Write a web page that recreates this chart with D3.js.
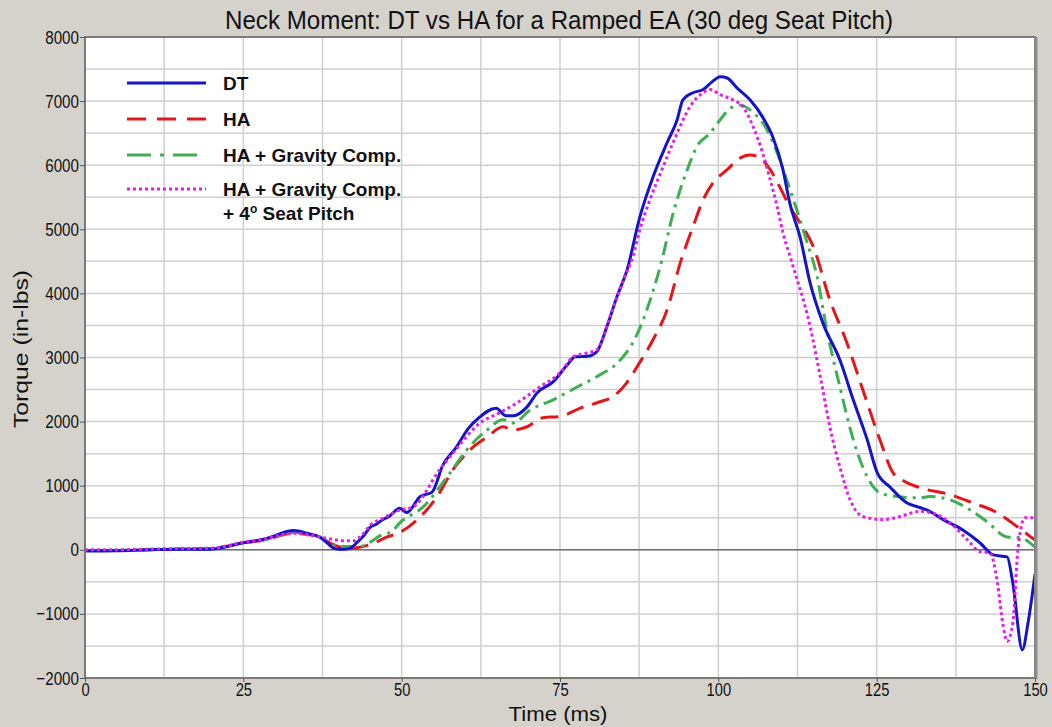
<!DOCTYPE html>
<html>
<head>
<meta charset="utf-8">
<script src="https://cdn.jsdelivr.net/npm/d3@7"></script>
<style>
  body { margin: 0; background: #d5d2cc; }
  svg { display: block; }
  .tick text { transform-box: fill-box; }
</style>
</head>
<body>
<svg id="chart"></svg>
<script>
// chart texts
var chartTitle = "Neck Moment: DT vs HA for a Ramped EA (30 deg Seat Pitch)";
var xTitle = "Time (ms)";
var yTitle = "Torque (in-lbs)";

var xTicks = [0, 25, 50, 75, 100, 125, 150];
var yTicks = [-2000, -1000, 0, 1000, 2000, 3000, 4000, 5000, 6000, 7000, 8000];

// [time ms, torque in-lbs]
var dtData = [[0,-20],[5,-15],[10,0],[15,10],[20,10],[22,40],[25,110],[28,160],[30,220],[32,290],[33,300],[35,260],[37,200],[38,130],[39,40],[40,10],[41,10],[42,30],[43,120],[44,220],[45,350],[46,400],[47,470],[48,520],[49.7,650],[50.8,580],[52.9,830],[54.8,900],[56.5,1320],[58.7,1610],[60.5,1890],[62.2,2060],[64.9,2210],[66.5,2090],[67.6,2090],[69.8,2230],[71.4,2450],[73.9,2620],[76.1,2880],[77.4,3010],[79.4,3020],[80.8,3090],[82.4,3480],[84,3950],[85.6,4370],[87.6,5190],[89.7,5820],[91.9,6350],[93.5,6710],[94.4,7020],[96,7130],[97.6,7180],[99,7300],[100.3,7380],[101.4,7360],[102.9,7210],[105,7020],[107,6750],[108.6,6440],[110.2,5930],[111.3,5400],[112.9,4880],[114.5,4160],[116.5,3540],[119.2,2960],[121.3,2340],[123.5,1720],[125.1,1200],[127.1,980],[129.8,730],[131.8,660],[133,620],[135.5,470],[138.6,310],[141.3,110],[143.4,-80],[145.6,-110],[146.5,-520],[148,-1560],[148.9,-1140],[150,-380]];

var haData = [[0,-10],[5,-10],[10,0],[15,10],[20,20],[22,50],[25,110],[28,150],[30,200],[32,250],[33,260],[35,240],[37.1,200],[39.2,80],[40.5,40],[42.3,30],[43.9,50],[45.5,100],[47.7,200],[49.7,270],[52.9,510],[55.6,830],[58.1,1250],[60.8,1560],[63.5,1760],[66,1920],[67.6,1870],[69.8,1920],[72.3,2060],[75,2080],[78.2,2210],[81.3,2310],[83.4,2390],[85.5,2600],[87.2,2860],[89.7,3280],[91.9,3740],[94,4480],[96,5040],[97.6,5460],[99.2,5730],[101.4,5930],[103.4,6110],[105,6160],[106.6,6110],[108.2,5930],[109.7,5660],[111.3,5350],[112.9,5100],[115,4730],[117.6,3900],[120.3,3230],[122.8,2500],[125.5,1720],[127.6,1200],[129,1090],[131.8,970],[136.6,860],[140.2,730],[144,580],[147.2,360],[150,150]];

var haGravData = [[0,-10],[5,-10],[10,0],[15,10],[20,15],[22,50],[25,110],[28,150],[30,200],[32,260],[33,270],[35,250],[37.1,200],[39.2,80],[41.4,50],[43.4,50],[45,120],[46.6,220],[48.6,300],[49.7,420],[53.4,670],[57.2,1140],[60.3,1560],[63.5,1870],[66,2030],[67.6,1980],[70.3,2180],[73.9,2340],[77.7,2540],[80.8,2700],[84.5,2960],[86.5,3230],[88.7,3740],[90.8,4410],[93,5300],[95.1,5930],[96.6,6290],[98.7,6500],[100.3,6710],[101.9,6890],[103.4,6940],[105.5,6820],[107.7,6550],[109.3,6190],[110.8,5770],[112.4,5300],[114,4800],[115.5,4300],[117.2,3390],[119.2,2540],[121.3,1720],[123.5,1140],[125.5,890],[128.2,830],[131.8,810],[133.4,830],[136.6,780],[139.3,650],[142.4,440],[145.6,200],[147.6,190],[150,40]];

var haGravPitchData = [[0,0],[5,0],[10,10],[15,20],[20,25],[22,50],[25,120],[28,160],[30,210],[32,250],[33,260],[35,240],[37.1,200],[39.2,160],[41,140],[42.5,140],[43.4,200],[45.5,420],[46.6,470],[49.7,620],[51.8,670],[56,1250],[58.1,1510],[62.4,1980],[65.5,2140],[68.2,2290],[71.8,2540],[75,2760],[77.1,3010],[79.3,3070],[80.8,3120],[82.9,3640],[85,4210],[86.5,4570],[87.6,4990],[89.2,5460],[91.3,5980],[93.5,6500],[95.5,6910],[97.6,7130],[98.7,7180],[100.3,7100],[102.3,7020],[103.9,6910],[105.5,6600],[107,6190],[108.2,5770],[109.3,5350],[110.2,4950],[111.5,4520],[114.5,3480],[116.1,2700],[117.6,1920],[119.2,1290],[120.8,780],[122.8,520],[126,470],[128.7,520],[131.8,600],[133.9,570],[136.6,420],[139.3,160],[141.3,-30],[142.9,-50],[144,-470],[145,-1200],[145.6,-1430],[146.5,-1140],[147.3,0],[148.4,500],[150,500]];

var seriesNames = ["DT", "HA", "HA + Gravity Comp.", "HA + Gravity Comp."];
var seriesColors = ["#1414c8", "#e3161c", "#3fae55", "#e41ee4"];
var seriesDash = [null, "18,9", "14,6,3,6", "3,3"];
var legendDash = [null, "19,11", "24,9,4,9", "3,3"];
var seriesData = [dtData, haData, haGravData, haGravPitchData];

var W = 1052, H = 727;
var plotL = 85, plotR = 1035, plotT = 37, plotB = 678;
var sans = "'Liberation Sans', Arial, sans-serif";

var svg = d3.select("#chart").attr("width", W).attr("height", H);

svg.append("rect").attr("width", W).attr("height", H).attr("fill", "#d5d2cc");

var x = d3.scaleLinear().domain([0, 150]).range([plotL, plotR]);
var y = d3.scaleLinear().domain([-2000, 8000]).range([plotB, plotT]);

svg.append("rect")
  .attr("x", plotL).attr("y", plotT)
  .attr("width", plotR - plotL).attr("height", plotB - plotT)
  .attr("fill", "#ffffff");

// grid
var grid = svg.append("g");
grid.selectAll("line.v")
  .data(d3.range(12.5, 150, 12.5))
  .enter().append("line")
    .attr("x1", function(d){ return x(d); })
    .attr("x2", function(d){ return x(d); })
    .attr("y1", plotT).attr("y2", plotB)
    .attr("stroke", "#cfcfcf").attr("stroke-width", 1.5);
grid.selectAll("line.h")
  .data(d3.range(-1500, 8000, 500))
  .enter().append("line")
    .attr("x1", plotL).attr("x2", plotR)
    .attr("y1", function(d){ return y(d); })
    .attr("y2", function(d){ return y(d); })
    .attr("stroke", "#cfcfcf").attr("stroke-width", 1.5);

// zero line
svg.append("line")
  .attr("x1", plotL).attr("x2", plotR)
  .attr("y1", y(0)).attr("y2", y(0))
  .attr("stroke", "#6e6e6e").attr("stroke-width", 1.5);

// curves
var line = d3.line()
  .x(function(d){ return x(d[0]); })
  .y(function(d){ return y(d[1]); })
  .curve(d3.curveMonotoneX);

var order = [1, 2, 0, 3];
order.forEach(function(i){
  svg.append("path")
    .datum(seriesData[i])
    .attr("d", line)
    .attr("fill", "none")
    .attr("stroke", seriesColors[i])
    .attr("stroke-width", 3)
    .attr("stroke-dasharray", seriesDash[i])
    .attr("stroke-linejoin", "round");
});

// frame
svg.append("rect")
  .attr("x", plotL).attr("y", plotT)
  .attr("width", plotR - plotL).attr("height", plotB - plotT)
  .attr("fill", "none").attr("stroke", "#7a7a7a").attr("stroke-width", 2);
svg.append("line")
  .attr("x1", plotR + 1).attr("x2", plotR + 1).attr("y1", plotT).attr("y2", plotB + 1)
  .attr("stroke", "#8c8c8c").attr("stroke-width", 3);

// axes
var yAxis = svg.append("g")
  .attr("transform", "translate(" + plotL + ",0)")
  .call(d3.axisLeft(y).tickValues(yTicks).tickFormat(d3.format("d")).tickSize(5).tickPadding(1));
var xAxis = svg.append("g")
  .attr("transform", "translate(0," + plotB + ")")
  .call(d3.axisBottom(x).tickValues(xTicks).tickFormat(d3.format("d")).tickSize(4).tickPadding(1));

[yAxis, xAxis].forEach(function(a){
  a.select(".domain").remove();
  a.selectAll(".tick line").attr("stroke", "#555").attr("stroke-width", 1);
  a.selectAll(".tick text")
    .attr("fill", "#111")
    .style("font-family", sans);
});
yAxis.selectAll(".tick text").style("font-size", "19px");
xAxis.selectAll(".tick text").style("font-size", "18px");
// condensed look of the original tick labels
yAxis.selectAll(".tick text").style("transform-origin", "right center").style("transform", "scaleX(0.8)");
xAxis.selectAll(".tick text").style("transform-origin", "center").style("transform", "scaleX(0.82)");

// titles
svg.append("text")
  .attr("x", 559).attr("y", 29)
  .attr("text-anchor", "middle")
  .attr("textLength", 668).attr("lengthAdjust", "spacingAndGlyphs")
  .style("font-family", sans)
  .style("font-size", "25px")
  .attr("fill", "#111")
  .text(chartTitle);

svg.append("text")
  .attr("x", 558).attr("y", 721)
  .attr("text-anchor", "middle")
  .attr("textLength", 99).attr("lengthAdjust", "spacingAndGlyphs")
  .style("font-family", sans)
  .style("font-size", "21px")
  .attr("fill", "#111")
  .text(xTitle);

svg.append("text")
  .attr("transform", "translate(28,349) rotate(-90)")
  .attr("text-anchor", "middle")
  .attr("textLength", 158).attr("lengthAdjust", "spacingAndGlyphs")
  .style("font-family", sans)
  .style("font-size", "21px")
  .attr("fill", "#111")
  .text(yTitle);

// legend
var legY = [83, 119, 155, 189];
var legend = svg.append("g");
seriesNames.forEach(function(name, i){
  legend.append("line")
    .attr("x1", 127).attr("x2", 206)
    .attr("y1", legY[i]).attr("y2", legY[i])
    .attr("stroke", seriesColors[i])
    .attr("stroke-width", 3)
    .attr("stroke-dasharray", legendDash[i]);
  legend.append("text")
    .attr("x", 223).attr("y", legY[i] + 7)
    .style("font-family", sans)
    .style("font-weight", "bold")
    .style("font-size", "19px")
    .attr("fill", "#111")
    .text(name);
});
var extra = legend.append("text")
  .attr("x", 223).attr("y", 220)
  .style("font-family", sans)
  .style("font-weight", "bold")
  .style("font-size", "19px")
  .attr("fill", "#111");
extra.append("tspan").text("+ 4");
extra.append("tspan").attr("dy", -7).style("font-size", "12px").text("o");
extra.append("tspan").attr("dy", 7).text(" Seat Pitch");
</script>
</body>
</html>
